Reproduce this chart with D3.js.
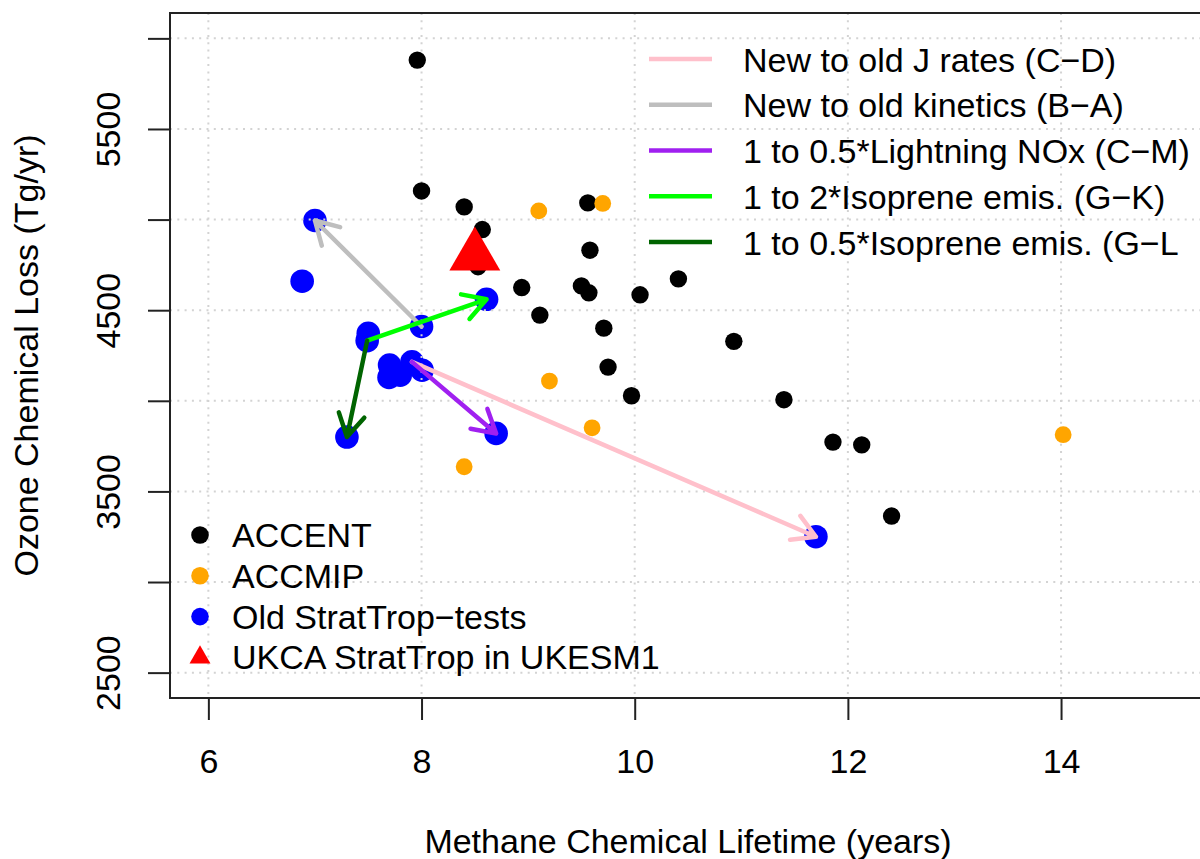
<!DOCTYPE html>
<html>
<head>
<meta charset="utf-8">
<script src="https://cdn.jsdelivr.net/npm/d3@7"></script>
<style>
  html, body { margin: 0; padding: 0; background: #fff; }
  svg { display: block; font-family: "Liberation Sans", Arial, Helvetica, sans-serif; }
</style>
</head>
<body>
<svg id="chart" width="1200" height="859"></svg>
<script>
// Methane chemical lifetime (years) vs ozone chemical loss (Tg/yr)
const accent = [
  [7.96, 5880], [8.00, 5158], [8.40, 5070], [8.57, 4945], [8.53, 4740],
  [9.56, 5092], [9.58, 4831], [8.94, 4625], [9.50, 4634], [9.57, 4596],
  [10.05, 4585], [10.41, 4673], [9.11, 4473], [9.71, 4401], [9.75, 4186],
  [9.97, 4028], [10.93, 4328], [11.40, 4006], [11.86, 3772], [12.13, 3757],
  [12.41, 3364]
];
const accmip = [
  [9.10, 5048], [9.70, 5089], [9.20, 4109], [9.60, 3851], [8.40, 3636], [14.02, 3813]
];
const stratTropTests = [
  [7.00, 4995], [6.88, 4660], [8.00, 4410], [8.61, 4560], [7.50, 4372],
  [7.49, 4332], [7.70, 4197], [7.695, 4129], [7.80, 4141], [7.91, 4215],
  [8.005, 4169], [7.30, 3800], [8.70, 3820], [11.70, 3250]
];
const ukesm1 = [[8.50, 4800]];

// Experiment pairs joined by arrows (start -> end)
const arrowStart = [[7.91, 4215], [8.00, 4410], [7.91, 4215], [7.49, 4332], [7.49, 4332]];
const arrowEnd   = [[11.70, 3250], [7.00, 4995], [8.70, 3820], [8.61, 4560], [7.30, 3800]];
const arrowLabels = [
  "New to old J rates (C\u2212D)",
  "New to old kinetics (B\u2212A)",
  "1 to 0.5*Lightning NOx (C\u2212M)",
  "1 to 2*Isoprene emis. (G\u2212K)",
  "1 to 0.5*Isoprene emis. (G\u2212L"
];
const arrowColors = ["#FFC0CB", "#BEBEBE", "#A020F0", "#00FF00", "#006400"];

const groupLabels = ["ACCENT", "ACCMIP", "Old StratTrop\u2212tests", "UKCA StratTrop in UKESM1"];
const groupColors = ["#000000", "#FFA500", "#0000FF", "#FF0000"];

const xLim = [6, 15];
const yLim = [2500, 6000];
const xTicks = [6, 8, 10, 12, 14];
const yTicks = [2500, 3000, 3500, 4000, 4500, 5000, 5500, 6000];
const yTickLabels = ["2500", "3500", "4500", "5500"];
const xTitle = "Methane Chemical Lifetime (years)";
const yTitle = "Ozone Chemical Loss (Tg/yr)";

// ---- layout ----
const plotLeft = 170, plotRight = 1206, plotTop = 13, plotBottom = 698;
const fontSize = 34;
const pad = f => [f[0] - 0.04 * (f[1] - f[0]), f[1] + 0.04 * (f[1] - f[0])];

const x = d3.scaleLinear().domain(pad(xLim)).range([plotLeft, plotRight]);
const y = d3.scaleLinear().domain(pad(yLim)).range([plotBottom, plotTop]);

const svg = d3.select("#chart");

// blue test runs sit under the grid
svg.append("g").selectAll("circle").data(stratTropTests).join("circle")
  .attr("cx", d => x(d[0])).attr("cy", d => y(d[1])).attr("r", 11.8)
  .attr("fill", groupColors[2]);

// dotted grid
const grid = svg.append("g")
  .attr("stroke", "#d3d3d3").attr("stroke-width", 2).attr("stroke-dasharray", "2 5.3");
grid.selectAll("line.v").data(xTicks).join("line").attr("class", "v")
  .attr("x1", d => x(d)).attr("x2", d => x(d)).attr("y1", plotTop).attr("y2", plotBottom);
grid.selectAll("line.h").data(yTicks).join("line").attr("class", "h")
  .attr("x1", plotLeft).attr("x2", plotRight).attr("y1", d => y(d)).attr("y2", d => y(d));

// ACCENT and ACCMIP models
svg.append("g").selectAll("circle").data(accent).join("circle")
  .attr("cx", d => x(d[0])).attr("cy", d => y(d[1])).attr("r", 8.7)
  .attr("fill", groupColors[0]);
svg.append("g").selectAll("circle").data(accmip).join("circle")
  .attr("cx", d => x(d[0])).attr("cy", d => y(d[1])).attr("r", 8.4)
  .attr("fill", groupColors[1]);

// arrows between paired runs
const headLen = 26, headAng = Math.PI / 6;
const arrowG = svg.append("g").attr("fill", "none").attr("stroke-width", 4.5)
  .attr("stroke-linecap", "round").attr("stroke-linejoin", "round");
arrowStart.forEach((s, i) => {
  const x0 = x(s[0]), y0 = y(s[1]);
  const x1 = x(arrowEnd[i][0]), y1 = y(arrowEnd[i][1]);
  const a = Math.atan2(y1 - y0, x1 - x0);
  const p = d3.path();
  p.moveTo(x0, y0); p.lineTo(x1, y1);
  p.moveTo(x1 - headLen * Math.cos(a - headAng), y1 - headLen * Math.sin(a - headAng));
  p.lineTo(x1, y1);
  p.lineTo(x1 - headLen * Math.cos(a + headAng), y1 - headLen * Math.sin(a + headAng));
  arrowG.append("path").attr("d", p.toString()).attr("stroke", arrowColors[i]);
});

// triangle symbol centred on its data point
function triangle(cx, cy, r) {
  const h = r * Math.sqrt(3) / 2;
  return `M${cx},${cy - r}L${cx + h},${cy + r / 2}L${cx - h},${cy + r / 2}Z`;
}
svg.append("g").selectAll("path").data(ukesm1).join("path")
  .attr("d", d => triangle(x(d[0]), y(d[1]), 29.4))
  .attr("fill", groupColors[3]);

// plot frame
svg.append("rect").attr("x", plotLeft).attr("y", plotTop)
  .attr("width", plotRight - plotLeft).attr("height", plotBottom - plotTop)
  .attr("fill", "none").attr("stroke", "#222").attr("stroke-width", 2);

// axes
const xAxis = svg.append("g").attr("transform", `translate(0,${plotBottom})`)
  .call(d3.axisBottom(x).tickValues(xTicks).tickSize(22).tickSizeOuter(0).tickFormat(d3.format("d")));
xAxis.select(".domain").remove();
xAxis.selectAll(".tick line").attr("stroke", "#222").attr("stroke-width", 2);
xAxis.selectAll(".tick text").attr("y", 75).attr("dy", null)
  .attr("fill", "#000").attr("font-size", fontSize).attr("font-family", null);

const yAxis = svg.append("g").attr("transform", `translate(${plotLeft},0)`)
  .call(d3.axisLeft(y).tickValues(yTicks).tickSize(22).tickSizeOuter(0)
    .tickFormat(d => yTickLabels.includes(String(d)) ? String(d) : ""));
yAxis.select(".domain").remove();
yAxis.selectAll(".tick line").attr("stroke", "#222").attr("stroke-width", 2);
yAxis.selectAll(".tick text").attr("x", null).attr("dy", null)
  .attr("transform", "translate(-50,0) rotate(-90)")
  .attr("text-anchor", "middle").attr("fill", "#000")
  .attr("font-size", fontSize).attr("font-family", null);

// axis titles
svg.append("text").attr("x", (plotLeft + plotRight) / 2).attr("y", 853)
  .attr("text-anchor", "middle").attr("font-size", fontSize).text(xTitle);
svg.append("text").attr("transform", `translate(38,${(plotTop + plotBottom) / 2}) rotate(-90)`)
  .attr("text-anchor", "middle").attr("font-size", fontSize).text(yTitle);

// legend for the arrows (top right)
const lg2 = svg.append("g");
arrowLabels.forEach((lab, i) => {
  const cy = 59 + i * 45.75;
  lg2.append("line").attr("x1", 649).attr("x2", 712).attr("y1", cy).attr("y2", cy)
    .attr("stroke", arrowColors[i]).attr("stroke-width", 4.5);
  lg2.append("text").attr("x", 743).attr("y", cy + 12.5)
    .attr("font-size", fontSize).text(lab);
});

// legend for the model groups (bottom left)
const lg1 = svg.append("g");
groupLabels.forEach((lab, i) => {
  const cy = 535 + i * 40.8;
  if (i < 3) {
    lg1.append("circle").attr("cx", 200).attr("cy", cy).attr("r", 8.8).attr("fill", groupColors[i]);
  } else {
    lg1.append("path").attr("d", triangle(200, cy, 12.1)).attr("fill", groupColors[i]);
  }
  lg1.append("text").attr("x", 232).attr("y", cy + 12)
    .attr("font-size", fontSize).text(lab);
});
</script>
</body>
</html>
